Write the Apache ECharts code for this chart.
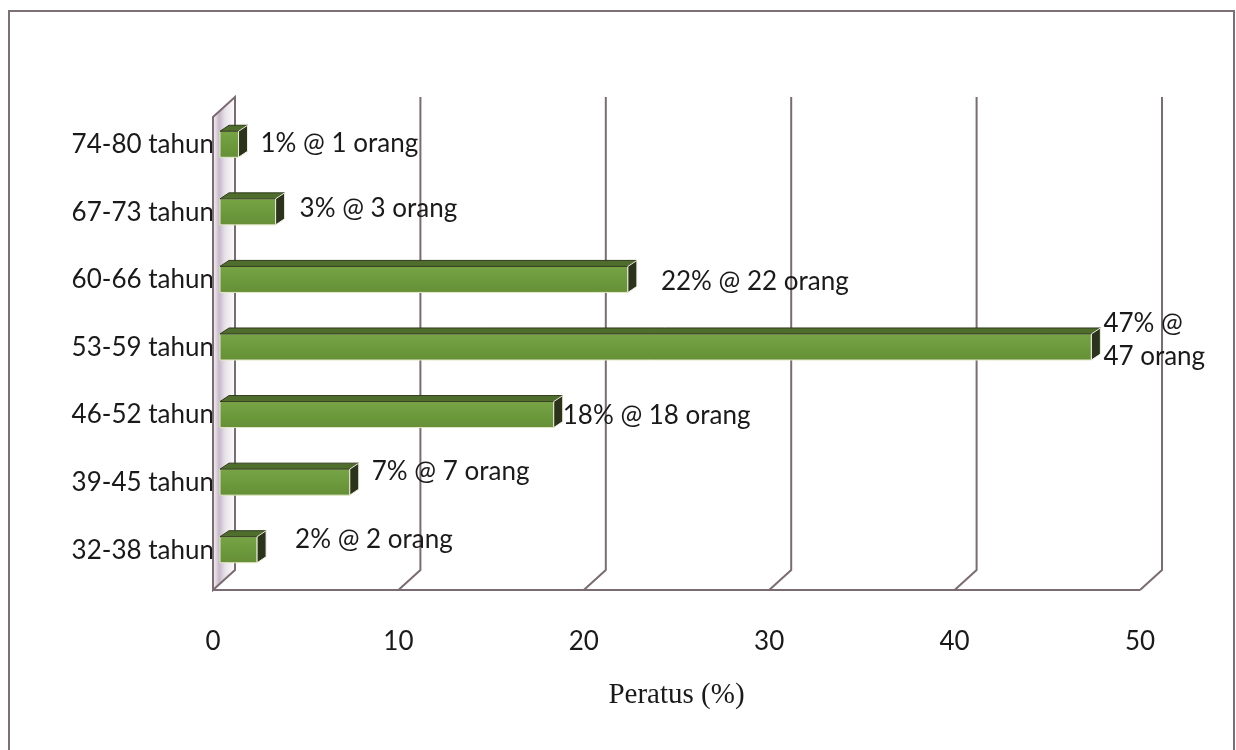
<!DOCTYPE html>
<html><head><meta charset="utf-8">
<script src="https://cdn.jsdelivr.net/npm/echarts@6/dist/echarts.min.js"></script>
<style>html,body{margin:0;padding:0;background:#fff}#c{width:1236px;height:750px}</style>
</head><body><div id="c"></div>
<script>
// ---- data ----
const categories = ['32-38 tahun','39-45 tahun','46-52 tahun','53-59 tahun','60-66 tahun','67-73 tahun','74-80 tahun'];
const percentValues = [2, 7, 18, 47, 22, 3, 1];
const personCounts = [2, 7, 18, 47, 22, 3, 1];
const xTicks = [0, 10, 20, 30, 40, 50];
const axisTitle = 'Peratus (%)';

// ---- style-only tweaks ----
const labelNudge = [
  {dx: 29, dy: -10}, {dx: 13, dy: -11}, {dx: 0, dy: 1.5}, {dx: 3, dy: -6.5, wrap: true},
  {dx: 24, dy: 2.5}, {dx: 15, dy: -3}, {dx: 13, dy: -1}
];
const DEPTH = [22, -20];
const BAR_OFF = [7, -6.5];
const BAR_DEPTH = [9, -6];
const LINE = '#7b6b73';
const FONT = 'Lato';
const FS = 26;

const chart = echarts.init(document.getElementById('c'));

function renderGrid(params, api) {
  const v = api.value(0);
  const cs = params.coordSys;
  const x = api.coord([v, 0])[0];
  const yt = cs.y, yb = cs.y + cs.height;
  const children = [];
  if (v === 0) {
    const xEnd = api.coord([xTicks[xTicks.length - 1], 0])[0];
    children.push({
      type: 'polygon',
      shape: {points: [[x, yt], [x + DEPTH[0], yt + DEPTH[1]], [x + DEPTH[0], yb + DEPTH[1]], [x, yb]]},
      style: {
        fill: new echarts.graphic.LinearGradient(0, 0, 1, 0, [
          {offset: 0, color: '#ffffff'}, {offset: 0.3, color: '#c6b8c8'},
          {offset: 0.55, color: '#e8e2e9'}, {offset: 1, color: '#ffffff'}
        ]),
        stroke: LINE, lineWidth: 2
      }
    });
    children.push({type: 'line', shape: {x1: x, y1: yb, x2: xEnd, y2: yb}, style: {stroke: LINE, lineWidth: 2}});
  } else {
    children.push({
      type: 'polyline',
      shape: {points: [[x + DEPTH[0], yt + DEPTH[1]], [x + DEPTH[0], yb + DEPTH[1]], [x, yb]]},
      style: {stroke: LINE, lineWidth: 2, fill: null}
    });
  }
  return {type: 'group', children};
}

function renderBar(params, api) {
  const v = api.value(0), ci = api.value(1);
  const p0 = api.coord([0, ci]), p1 = api.coord([v, ci]);
  const band = api.size([0, 1])[1];
  const h = band * 0.385;
  const x0 = p0[0] + BAR_OFF[0], x1 = p1[0] + BAR_OFF[0];
  const yc = p0[1] + BAR_OFF[1];
  const y0 = yc - h / 2, y1 = yc + h / 2;
  const [dx, dy] = BAR_DEPTH;
  const n = labelNudge[params.dataIndex];
  const cnt = personCounts[params.dataIndex];
  const text = n.wrap ? (v + '% @\n' + cnt + ' orang') : (v + '% @ ' + cnt + ' orang');
  return {
    type: 'group',
    children: [
      {type: 'rect', shape: {x: x0, y: y0, width: x1 - x0, height: h},
        style: {fill: new echarts.graphic.LinearGradient(0, 0, 0, 1, [
          {offset: 0, color: '#78a446'}, {offset: 0.5, color: '#6c9a3c'}, {offset: 1, color: '#668f37'}]),
          stroke: '#e4e8c6', lineWidth: 1}},
      {type: 'polygon', shape: {points: [[x0, y0], [x0 + dx, y0 + dy], [x1 + dx, y0 + dy], [x1, y0]]},
        style: {fill: '#4f6d2d', stroke: '#2f3b1b', lineWidth: 1}},
      {type: 'polygon', shape: {points: [[x1, y0], [x1 + dx, y0 + dy], [x1 + dx, y1 + dy], [x1, y1]]},
        style: {fill: '#2c331c', stroke: '#f0f0e0', lineWidth: 1}},
      {type: 'text', z2: 10, style: {text, x: x1 + dx + n.dx, y: yc + n.dy, align: 'left', verticalAlign: 'middle',
        fill: '#1a1a1a', fontSize: FS, fontFamily: FONT, lineHeight: 33}}
    ]
  };
}

chart.setOption({
  animation: false,
  backgroundColor: '#ffffff',
  graphic: [{type: 'rect', shape: {x: 9, y: 11, width: 1225, height: 760},
    style: {fill: null, stroke: '#7d6f76', lineWidth: 2}, silent: true}],
  grid: {left: 213, top: 117, width: 927, height: 473},
  xAxis: {
    type: 'value', min: 0, max: 50, interval: 10,
    axisLine: {show: false}, axisTick: {show: false}, splitLine: {show: false},
    axisLabel: {margin: 39, fontSize: FS, color: '#1a1a1a', fontFamily: FONT},
    name: axisTitle, nameLocation: 'middle', nameGap: 91,
    nameTextStyle: {fontFamily: 'Liberation Serif', fontSize: 29, color: '#1a1a1a'}
  },
  yAxis: {
    type: 'category', data: categories,
    axisLine: {show: false}, axisTick: {show: false}, splitLine: {show: false},
    axisLabel: {margin: -1, fontSize: FS, color: '#1a1a1a', fontFamily: FONT,
      verticalAlign: 'bottom', lineHeight: 12}
  },
  series: [
    {type: 'custom', renderItem: renderGrid, data: xTicks.map(t => [t, 0]), z: 1, silent: true, clip: false},
    {type: 'custom', renderItem: renderBar, data: percentValues.map((v, i) => [v, i]), z: 3, silent: true, clip: false}
  ]
});
</script></body></html>
